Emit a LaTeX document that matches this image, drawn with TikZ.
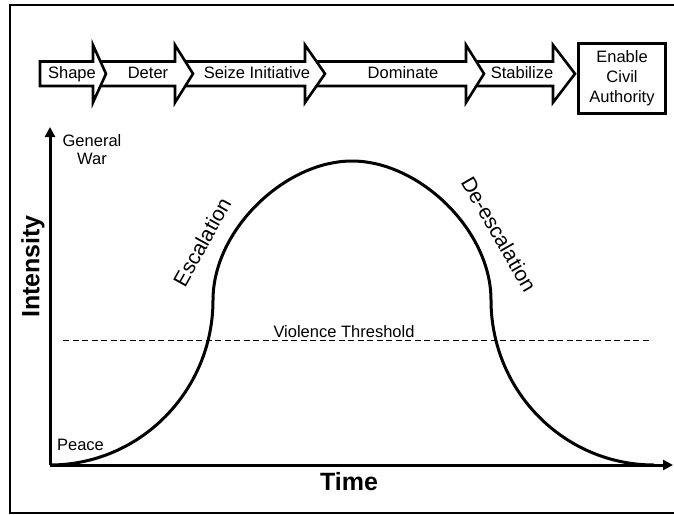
\documentclass[tikz,border=0pt]{standalone}
\usepackage{fontspec}
\setmainfont{Liberation Sans}
\usetikzlibrary{arrows.meta}

\begin{document}
\begin{tikzpicture}[x=1pt, y=-1pt,
    phase/.style={draw, line width=2.6pt, fill=white},
    phasetext/.style={font=\fontsize{16.5}{20}\selectfont, inner sep=0pt, text height=12pt, text depth=3.5pt},
    endbox/.style={draw, line width=2.6pt, fill=white, align=center, inner sep=0pt,
      minimum width=87.5pt, minimum height=70.5pt, font=\fontsize{16.5}{20}\selectfont},
    label/.style={font=\fontsize{16.5}{18}\selectfont, inner sep=0pt, align=center},
    title/.style={font=\fontsize{25}{30}\selectfont\bfseries, inner sep=0pt},
    trend/.style={font=\fontsize{21}{25}\selectfont, inner sep=0pt},
    axis/.style={line width=3pt, -{Triangle[length=10pt,width=10pt]}},
    curve/.style={line width=3pt},
    threshold/.style={line width=0.8pt, dash pattern=on 6pt off 3.5pt}]
  \useasboundingbox (0,0) rectangle (674,514);
  \draw[line width=2pt] (10,5) rectangle (680,513);

  % phases, drawn right to left so each head lies over the next body
  \foreach \xa/\xb/\xc in {466/553/575, 305/466/484, 175/305/325, 93/175/193, 40/93/106}
    \draw[phase] (\xa,61.5) -- (\xb,61.5) -- (\xb,45) -- (\xc,73.75) -- (\xb,102.5)
      -- (\xb,86) -- (\xa,86) -- cycle;
  \node[phasetext] (shape) at (72,74.5) {Shape};
  \node[phasetext] (deter) at (148,74.5) {Deter};
  \node[phasetext] (seize) at (257,74.5) {Seize Initiative};
  \node[phasetext] (dominate) at (403,74.5) {Dominate};
  \node[phasetext] (stabilize) at (522,74.5) {Stabilize};
  \node[endbox] (civil) at (622,78.5) {Enable\\Civil\\Authority};

  % axes
  \coordinate (origin) at (50,465);
  \coordinate (ytop) at (50,127);
  \coordinate (xend) at (673,465);
  \draw[axis] (origin) -- (ytop);
  \draw[axis] (origin) -- (xend);
  \node[label] (war) at (92,150) {General\\War};
  \node[label] (peace) at (80.5,444.5) {Peace};
  \node[title, rotate=90] (intensity) at (33,266.5) {Intensity};
  \node[title] (time) at (349,482) {Time};

  % violence threshold
  \coordinate (thA) at (63,340);
  \coordinate (thB) at (652,340);
  \draw[threshold] (thA) -- (thB);
  \node[label, anchor=base] (violence) at (344,337) {Violence Threshold};

  % intensity curve
  \coordinate (rise) at (213,300);
  \coordinate (peak) at (352,161);
  \coordinate (fall) at (491,300);
  \coordinate (calm) at (654,465);
  \draw[curve] (origin) .. controls (140,465) and (213,391) .. (rise)
    .. controls (213,230) and (285,161) .. (peak)
    .. controls (419,161) and (491,230) .. (fall)
    .. controls (491,391) and (564,465) .. (calm);
  \node[trend, rotate=61] (escalation) at (202,242) {Escalation};
  \node[trend, rotate=-60] (deescalation) at (499,234) {De-escalation};
\end{tikzpicture}
\end{document}
